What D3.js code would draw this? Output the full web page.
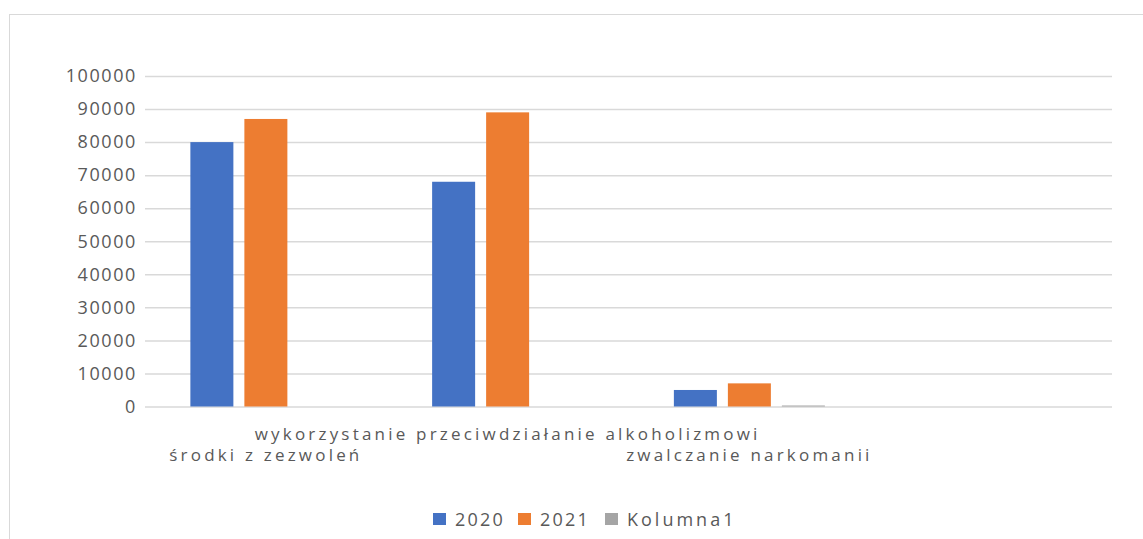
<!DOCTYPE html>
<html>
<head>
<meta charset="utf-8">
<script src="https://cdn.jsdelivr.net/npm/d3@7"></script>
<style>
  html, body { margin:0; padding:0; background:#fff; }
  svg { display:block; font-family:"Open Sans", "Noto Sans", sans-serif; }
</style>
</head>
<body>
<svg id="chart" width="1143" height="539"></svg>
<script>
// Values.
var CATEGORIES = ['środki z zezwoleń', 'wykorzystanie przeciwdziałanie alkoholizmowi', 'zwalczanie narkomanii', ''];
var SERIES = ['2020', '2021', 'Kolumna1'];
var V2020 = [80000, 68000, 5000, null];
var V2021 = [87000, 89000, 7000, null];
var KOLUMNA1 = [0, 0, 300, null];
var Y_TICKS = [0, 10000, 20000, 30000, 40000, 50000, 60000, 70000, 80000, 90000, 100000];
var COLORS = ['#4472c4', '#ed7d31', '#a5a5a5'];

var svg = d3.select('#chart');
var plot = { left:145, right:1112, top:76, bottom:406.5 };
var TEXT = '#595959', GRID = '#d9d9d9';

// chart frame (extends past the right and bottom edges of the picture)
svg.append('rect').attr('x', 9.5).attr('y', 14.5).attr('width', 1200).attr('height', 600)
    .attr('fill', 'none').attr('stroke', GRID).attr('stroke-width', 1);

var y = d3.scaleLinear().domain([0, 100000]).range([plot.bottom, plot.top]);
var x0 = d3.scaleBand().domain(d3.range(CATEGORIES.length)).range([plot.left, plot.right]);
// three bars of 43px with 11px gaps, centred in each category
var barW = 43, gap = 11, groupW = 3*barW + 2*gap;
var x1 = d3.scaleBand().domain(SERIES)
    .range([(x0.bandwidth()-groupW)/2, (x0.bandwidth()+groupW)/2])
    .paddingInner(gap/(barW+gap));

// gridlines + labels
var yAxis = d3.axisLeft(y).tickValues(Y_TICKS).tickSize(-(plot.right-plot.left)).tickPadding(8)
    .tickFormat(d3.format('d'));
var gy = svg.append('g').attr('transform', 'translate('+plot.left+',0)').call(yAxis);
gy.select('.domain').remove();
gy.selectAll('.tick line').attr('stroke', GRID).attr('stroke-width', 1.5);
gy.selectAll('.tick text').attr('fill', TEXT).attr('font-size', 18).attr('letter-spacing', 1.6)
    .attr('font-family', '"Open Sans", sans-serif');

var data = [V2020, V2021, KOLUMNA1];
SERIES.forEach(function(s, si){
    svg.append('g').selectAll('rect')
        .data(data[si].map(function(v, i){ return { v:v, i:i }; }).filter(function(d){ return d.v !== null; }))
        .join('rect')
        .attr('x', function(d){ return x0(d.i) + x1(s); })
        .attr('width', x1.bandwidth())
        .attr('y', function(d){ return y(d.v); })
        .attr('height', function(d){ return y(0) - y(d.v); })
        .attr('fill', COLORS[si]);
});

// staggered category labels, like Excel does when they do not fit
svg.append('g').selectAll('text').data(CATEGORIES).join('text')
    .attr('x', function(d, i){ return x0(i) + x0.bandwidth()/2; })
    .attr('y', function(d, i){ return i % 2 ? 440 : 461; })
    .attr('text-anchor', 'middle').attr('fill', TEXT)
    .attr('font-size', 17).attr('letter-spacing', 3.2)
    .text(function(d){ return d; });

// legend
var LEG_X = [433, 518, 605];
var leg = svg.append('g').selectAll('g').data(SERIES).join('g')
    .attr('transform', function(d, i){ return 'translate('+LEG_X[i]+',513)'; });
leg.append('rect').attr('width', 13).attr('height', 12).attr('fill', function(d, i){ return COLORS[i]; });
leg.append('text').attr('x', 22).attr('y', 12.5).attr('fill', TEXT)
    .attr('font-size', 18).attr('letter-spacing', function(d){ return /^\d+$/.test(d) ? 2.2 : 3; })
    .text(function(d){ return d; });
</script>
</body>
</html>
